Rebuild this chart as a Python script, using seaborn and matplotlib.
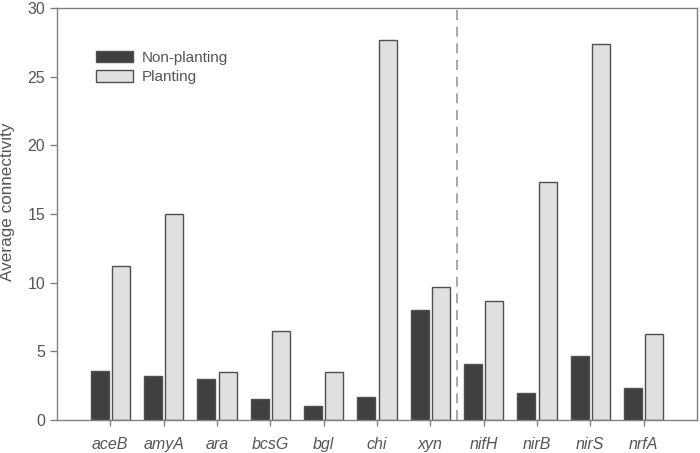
import matplotlib
matplotlib.use("Agg")
import matplotlib.pyplot as plt
import seaborn as sns
import pandas as pd

genes = ["aceB", "amyA", "ara", "bcsG", "bgl", "chi", "xyn", "nifH", "nirB", "nirS", "nrfA"]
non_planting = [3.6, 3.2, 3.0, 1.5, 1.0, 1.65, 8.0, 4.1, 2.0, 4.65, 2.3]
planting = [11.2, 15.0, 3.5, 6.45, 3.5, 27.7, 9.65, 8.65, 17.3, 27.35, 6.3]
groups = ["Non-planting", "Planting"]

df = pd.DataFrame({
    "gene": genes * 2,
    "value": non_planting + planting,
    "group": [groups[0]] * len(genes) + [groups[1]] * len(genes),
})

sns.set_style("ticks")
plt.rcParams["font.family"] = ["Liberation Sans", "DejaVu Sans"]

fig = plt.figure(figsize=(7, 4.53), dpi=100)
ax = fig.add_axes([0.0814, 0.0728, 0.9143, 0.9095])

sns.barplot(data=df, x="gene", y="value", hue="group", order=genes, hue_order=groups,
            palette=["#404040", "#e0e0e0"], width=0.8, gap=0.15,
            edgecolor="#505050", linewidth=1.0, saturation=1, ax=ax)

# divider between the two gene groups
ax.axvline(6.5, color="#999999", linestyle=(0, (6, 4)), linewidth=1.2)

ax.set_xlim(-1, 11)
ax.set_ylim(0, 30)
ax.set_yticks([0, 5, 10, 15, 20, 25, 30])
ax.set_xlabel("")
ax.set_ylabel("Average connectivity", fontsize=12.3, color="#555555")
ax.yaxis.set_label_coords(-0.065, 0.53)

for side in ["left", "right", "top", "bottom"]:
    ax.spines[side].set_visible(True)
    ax.spines[side].set_color("#808080")
    ax.spines[side].set_linewidth(1.0)

ax.tick_params(axis="both", colors="#808080", labelcolor="#555555", labelsize=11.5, length=5, width=1)
ax.tick_params(axis="x", length=4, pad=8)
for lbl in ax.get_xticklabels():
    lbl.set_fontstyle("italic")

ax.legend(loc="upper left", bbox_to_anchor=(0.04, 0.93), frameon=False, fontsize=11,
          handlelength=2.4, handleheight=0.8, labelspacing=0.35, handletextpad=0.6,
          labelcolor="#555555")

fig.savefig("out.png", dpi=100)
